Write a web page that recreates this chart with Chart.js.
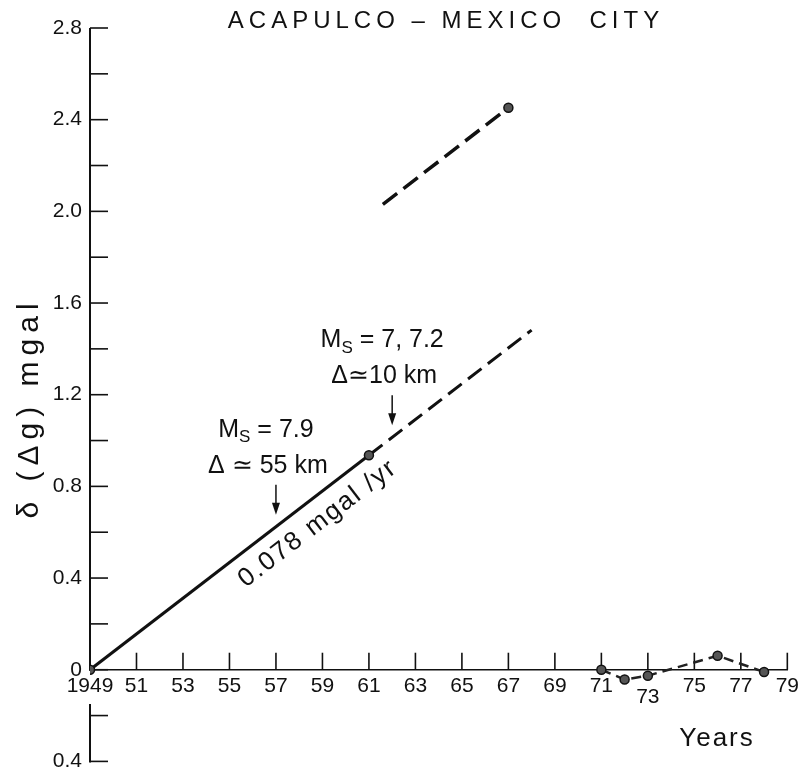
<!DOCTYPE html>
<html>
<head>
<meta charset="utf-8">
<script src="https://cdn.jsdelivr.net/npm/chart.js@4.4.0/dist/chart.umd.min.js"></script>
<style>
  html, body { margin: 0; padding: 0; background: #fff; }
  #wrap { width: 803px; height: 782px; }
</style>
</head>
<body>
<div id="wrap"><canvas id="chart"></canvas></div>
<script>
// gravity change along the Acapulco - Mexico City line (mgal)
const fitYears = [1949, 1961];
const fitValues = [0, 0.936];
const extYears = [1961, 1968];
const extValues = [0.936, 1.482];
const upperYears = [1961.6, 1967];
const upperValues = [2.03, 2.452];
const recentYears = [1971, 1972, 1973, 1976, 1978];
const recentValues = [0, -0.043, -0.026, 0.061, -0.01];

const xTickYears = [1949, 1951, 1953, 1955, 1957, 1959, 1961, 1963, 1965, 1967, 1969, 1971, 1973, 1975, 1977, 1979];
const yTickValues = [-0.4, -0.2, 0, 0.2, 0.4, 0.6, 0.8, 1.0, 1.2, 1.4, 1.6, 1.8, 2.0, 2.2, 2.4, 2.6, 2.8];

const quakeYears = [1957, 1962];
const quakeMags = ['= 7.9', '= 7, 7.2'];
const quakeDists = ['Δ ≃ 55 km', 'Δ≃10 km'];
const rateLabel = '0.078 mgal /yr';
const rateSlope = 0.078;

const FONT = '"Liberation Sans", Arial, sans-serif';
const INK = '#111';

const toPoints = (xs, ys) => xs.map((x, i) => ({ x: x, y: ys[i] }));

// axis line with its break, inward ticks, labels and notes
const decorPlugin = {
    id: 'decor',
    beforeDatasetsDraw(chart) {
        const ctx = chart.ctx;
        const xs = chart.scales.x;
        const ys = chart.scales.y;
        const area = chart.chartArea;
        const y0 = ys.getPixelForValue(0);

        ctx.save();
        ctx.strokeStyle = INK;
        ctx.lineWidth = 2;
        ctx.lineCap = 'butt';
        // y axis, broken below zero where 1949 sits
        ctx.beginPath();
        ctx.moveTo(area.left, area.top);
        ctx.lineTo(area.left, y0 + 1);
        ctx.moveTo(area.left, ys.getPixelForValue(-0.15));
        ctx.lineTo(area.left, area.bottom + 1);
        ctx.stroke();

        ctx.lineWidth = 1.6;
        yTickValues.forEach(v => {
            const py = ys.getPixelForValue(v);
            ctx.beginPath();
            ctx.moveTo(area.left, py);
            ctx.lineTo(area.left + 18, py);
            ctx.stroke();
        });

        xTickYears.forEach(yr => {
            if (yr === xTickYears[0]) return;
            const px = xs.getPixelForValue(yr);
            ctx.beginPath();
            ctx.moveTo(px, y0);
            ctx.lineTo(px, y0 - 17);
            ctx.stroke();
        });
        ctx.restore();
    },
    afterDraw(chart) {
        const ctx = chart.ctx;
        const xs = chart.scales.x;
        const ys = chart.scales.y;
        const y0 = ys.getPixelForValue(0);

        ctx.save();
        ctx.fillStyle = INK;
        ctx.strokeStyle = INK;
        ctx.textAlign = 'center';
        ctx.textBaseline = 'middle';

        // lowered tick label for 73
        ctx.font = '21px ' + FONT;
        ctx.fillText('73', xs.getPixelForValue(1973), y0 + 27);

        // Years
        ctx.font = '26px ' + FONT;
        ctx.letterSpacing = '2px';
        ctx.fillText('Years', 717, 739);

        // title
        ctx.font = '24px ' + FONT;
        ctx.letterSpacing = '5px';
        ctx.fillText('ACAPULCO – MEXICO  CITY', 446, 21);

        // y axis title
        ctx.save();
        ctx.translate(30, 408);
        ctx.rotate(-Math.PI / 2);
        ctx.font = '30px ' + FONT;
        ctx.letterSpacing = '6px';
        ctx.fillText('δ (Δg) mgal', 0, 0);
        ctx.restore();

        ctx.letterSpacing = '0px';

        // earthquake notes with arrows
        quakeYears.forEach((yr, i) => {
            const px = xs.getPixelForValue(yr);
            const lineY = ys.getPixelForValue(rateSlope * (yr - 1949));
            const top = lineY - 42;
            const tip = lineY - 12;

            ctx.beginPath();
            ctx.moveTo(px, top);
            ctx.lineTo(px, tip - 8);
            ctx.lineWidth = 1.5;
            ctx.stroke();
            ctx.beginPath();
            ctx.moveTo(px - 4, tip - 12);
            ctx.lineTo(px + 4, tip - 12);
            ctx.lineTo(px, tip);
            ctx.closePath();
            ctx.fill();

            // M with subscript S
            ctx.font = '25px ' + FONT;
            const mW = ctx.measureText('M').width;
            const restW = ctx.measureText(' ' + quakeMags[i]).width;
            ctx.font = '17px ' + FONT;
            const sW = ctx.measureText('S').width;
            const total = mW + sW + restW;
            const cx = px - 10 - total / 2;
            const ly = top - 55;
            ctx.textAlign = 'left';
            ctx.font = '25px ' + FONT;
            ctx.fillText('M', cx, ly);
            ctx.font = '17px ' + FONT;
            ctx.fillText('S', cx + mW, ly + 8);
            ctx.font = '25px ' + FONT;
            ctx.fillText(' ' + quakeMags[i], cx + mW + sW, ly);

            ctx.textAlign = 'center';
            ctx.fillText(quakeDists[i], px - 8, top - 19);
        });

        // rate label along the line
        const a = { x: xs.getPixelForValue(1949), y: ys.getPixelForValue(0) };
        const b = { x: xs.getPixelForValue(1961), y: ys.getPixelForValue(rateSlope * 12) };
        const ang = Math.atan2(b.y - a.y, b.x - a.x);
        const lyr = 1958.2;
        const lx = xs.getPixelForValue(lyr);
        const lyy = ys.getPixelForValue(rateSlope * (lyr - 1949));
        ctx.save();
        ctx.translate(lx - 23 * Math.sin(ang), lyy + 23 * Math.cos(ang));
        ctx.rotate(ang);
        ctx.font = '26px ' + FONT;
        ctx.letterSpacing = '2px';
        ctx.fillText(rateLabel, 0, 0);
        ctx.restore();

        ctx.restore();
    }
};

const pointStyle = {
    pointRadius: 4.5,
    pointBackgroundColor: '#555',
    pointBorderColor: '#111',
    pointBorderWidth: 1.5
};

new Chart(document.getElementById('chart'), {
    type: 'scatter',
    data: {
        datasets: [{
            label: 'fit',
            data: toPoints(fitYears, fitValues),
            showLine: true,
            borderColor: INK,
            borderWidth: 3,
            ...pointStyle
        }, {
            label: 'extension',
            data: toPoints(extYears, extValues),
            showLine: true,
            borderColor: INK,
            borderWidth: 3,
            borderDash: [17, 8],
            pointRadius: 0
        }, {
            label: 'upper',
            data: toPoints(upperYears, upperValues),
            showLine: true,
            borderColor: INK,
            borderWidth: 3.5,
            borderDash: [18, 8],
            ...pointStyle,
            pointRadius: [0, 4.5]
        }, {
            label: 'recent',
            data: toPoints(recentYears, recentValues),
            showLine: true,
            borderColor: '#222',
            borderWidth: 2.5,
            borderDash: [10, 6],
            ...pointStyle
        }]
    },
    options: {
        responsive: true,
        maintainAspectRatio: false,
        animation: false,
        layout: { padding: { top: 28, right: 13, bottom: 18, left: 0 } },
        plugins: {
            legend: { display: false },
            tooltip: { enabled: false },
            title: { display: false }
        },
        scales: {
            x: {
                type: 'linear',
                position: { y: 0 },
                min: 1949,
                max: 1979,
                afterBuildTicks: s => { s.ticks = xTickYears.map(v => ({ value: v })); },
                grid: { display: false, drawTicks: false },
                border: { display: true, color: INK, width: 1.6 },
                ticks: {
                    padding: 4,
                    color: INK,
                    font: { family: FONT, size: 21 },
                    maxRotation: 0,
                    autoSkip: false,
                    callback: v => v === 1949 ? '1949' : (v === 1973 ? '' : String(v % 100))
                }
            },
            y: {
                type: 'linear',
                min: -0.4,
                max: 2.8,
                afterFit: s => { s.width = 90; },
                afterBuildTicks: s => { s.ticks = yTickValues.map(v => ({ value: v })); },
                grid: { display: false, drawTicks: false },
                border: { display: false },
                ticks: {
                    padding: 8,
                    color: INK,
                    font: { family: FONT, size: 21 },
                    autoSkip: false,
                    callback: v => {
                        const r = Math.round(v * 10);
                        if (r % 4 !== 0) return '';
                        return r === 0 ? '0' : Math.abs(v).toFixed(1);
                    }
                }
            }
        }
    },
    plugins: [decorPlugin]
});
</script>
</body>
</html>
